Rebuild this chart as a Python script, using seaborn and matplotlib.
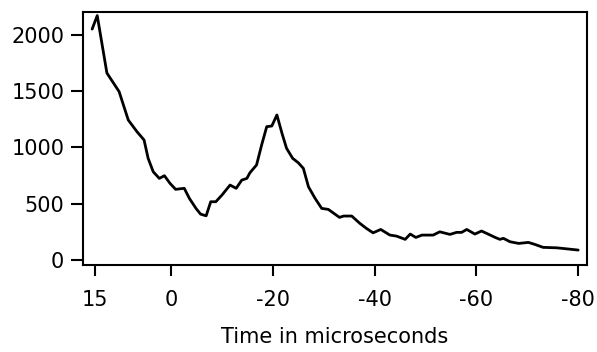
import matplotlib
matplotlib.use("Agg")
import matplotlib.pyplot as plt
import seaborn as sns
import pandas as pd

# Data
time_us = [15.5, 14.5, 12.6, 10.2, 8.4, 6.7, 5.3, 4.5, 3.5, 2.3, 1.3, 0.2, -0.9, -2.6,
           -3.6, -4.9, -5.8, -6.9, -7.8, -8.8, -10.0, -11.6, -12.8, -13.9, -14.9, -15.5,
           -16.8, -17.8, -18.8, -19.8, -20.8, -21.8, -22.7, -23.9, -25.0, -26.0, -27.0,
           -28.3, -29.6, -30.9, -33.1, -33.9, -35.5, -37.1, -38.4, -39.7, -41.2, -43.0,
           -44.3, -46.0, -47.0, -48.1, -49.3, -51.5, -52.8, -54.8, -56.1, -57.1, -58.1,
           -59.7, -61.0, -62.3, -63.7, -64.6, -65.3, -66.6, -68.3, -70.2, -71.5, -73.1,
           -75.8, -77.7, -80.0]
counts = [2050, 2170, 1660, 1495, 1243, 1140, 1066, 903, 784, 725, 749, 681, 628, 637,
          548, 459, 408, 393, 518, 518, 577, 666, 637, 710, 725, 775,
          844, 1021, 1184, 1190, 1288, 1125, 992, 903, 864, 814, 651,
          548, 459, 450, 379, 391, 391, 326, 281, 242, 272, 222,
          213, 184, 231, 201, 222, 222, 251, 228, 246, 246, 272,
          231, 258, 231, 201, 184, 193, 163, 148, 157, 139, 113,
          109, 100, 89]
x_ticks = [15, 0, -20, -40, -60, -80]
y_ticks = [0, 500, 1000, 1500, 2000]
x_label = "Time in microseconds"

df = pd.DataFrame({"t": time_us, "v": counts})

sns.set_theme(style="ticks")
plt.rcParams["font.family"] = ["DejaVu Sans"]
plt.rcParams["text.color"] = "black"
plt.rcParams["axes.labelcolor"] = "black"
plt.rcParams["xtick.color"] = "black"
plt.rcParams["ytick.color"] = "black"

fig = plt.figure(figsize=(5.97, 3.52), dpi=100)
ax = fig.add_axes([0.139, 0.247, 0.844, 0.719])
sns.lineplot(data=df, x="t", y="v", ax=ax, color="black", linewidth=2.0)

ax.set_xlim(17.3, -81.7)
ax.set_ylim(-44, 2202)
ax.set_xticks(x_ticks)
ax.set_xticklabels([str(t) for t in x_ticks])
ax.set_yticks(y_ticks)
ax.set_yticklabels([str(t) for t in y_ticks])
ax.set_xlabel(x_label, fontsize=15, labelpad=12, color="black")
ax.set_ylabel("")
ax.tick_params(axis="x", length=8, width=1.5, pad=10, labelsize=15, colors="black")
ax.tick_params(axis="y", length=8.5, width=1.5, pad=5, labelsize=15, colors="black")
for s in ax.spines.values():
    s.set_visible(True)
    s.set_linewidth(1.5)
    s.set_color("black")

fig.savefig("out.png", dpi=100)
